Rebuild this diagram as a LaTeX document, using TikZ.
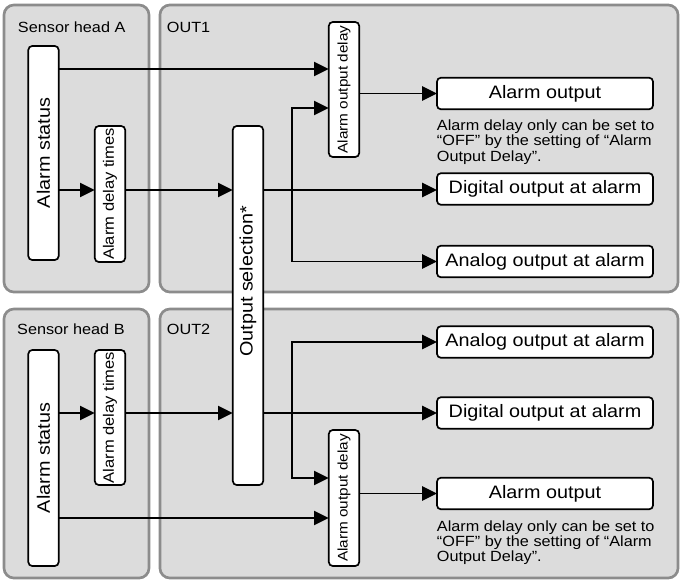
\documentclass[tikz,border=0pt]{standalone}
\usepackage{fontspec}
\setmainfont{Liberation Sans}[FakeStretch=1.1]
\usepackage{graphicx}
\usetikzlibrary{positioning,arrows.meta,calc}
\definecolor{panelfill}{HTML}{DCDCDC}
\definecolor{panelline}{HTML}{8C8C8C}
\newcommand{\up}[1]{\rotatebox{90}{#1}}

\begin{document}
\begin{tikzpicture}[
  x=0.025cm, y=-0.025cm,
  every node/.style={inner sep=0pt, outer sep=0pt},
  panel/.style={draw=panelline, line width=1.9pt, fill=panelfill, rounded corners=0.25cm},
  paneltitle/.style={font=\fontsize{10.5}{12}\selectfont},
  box/.style={draw, line width=1.2pt, rounded corners=0.1cm, fill=white, align=center, font=\fontsize{12.8}{15}\selectfont},
  hbox/.style={box, minimum width=5.4cm, minimum height=0.79cm},
  vbox/.style={box, minimum width=0.76cm},
  delaybox/.style={vbox, font=\fontsize{10.7}{13}\selectfont},
  note/.style={align=left, font=\fontsize{10.5}{8.5}\selectfont},
  arr/.style={-{Triangle[length=10.5pt,width=10pt]}, line width=1.4pt},
]
\useasboundingbox (0,0) rectangle (683,581);

% panels
\node[panel, minimum width=3.625cm, minimum height=7.175cm] (headA) at (76.5,148.5) {};
\node[panel, minimum width=12.95cm, minimum height=7.175cm] (out1) at (419,148.5) {};
\node[panel, minimum width=3.625cm, minimum height=6.725cm] (headB) at (76.5,443.5) {};
\node[panel, minimum width=12.95cm, minimum height=6.725cm] (out2) at (419,443.5) {};

\node[paneltitle, below right=0.42cm and 0.35cm of headA.north west] {Sensor head A};
\node[paneltitle, below right=0.42cm and 0.175cm of out1.north west] {OUT1};
\node[paneltitle, below right=0.38cm and 0.33cm of headB.north west] {Sensor head B};
\node[paneltitle, below right=0.38cm and 0.175cm of out2.north west] {OUT2};

% sensor head A / OUT1
\node[vbox, minimum height=5.35cm] (statA) at (43.5,153) {\up{Alarm status}};
\node[delaybox, minimum height=3.4cm] (delA) at (110,194) {\up{Alarm delay times}};
\node[delaybox, minimum height=3.375cm, font=\fontsize{9.9}{12}\selectfont] (odA) at (344,89.5) {\up{Alarm output delay}};
\node[hbox] (aoutA) at (545,93.5) {Alarm output};
\node[hbox] (doutA) at (545,189) {Digital output at alarm};
\node[hbox] (anoutA) at (545,261.5) {Analog output at alarm};
\node[note, below right=0.27cm and 0cm of aoutA.south west] (noteA) {Alarm delay only can be set to\\“OFF” by the setting of “Alarm\\Output Delay”.};

% sensor head B / OUT2
\node[vbox, minimum height=5.4cm] (statB) at (43.5,458) {\up{Alarm status}};
\node[delaybox, minimum height=3.375cm] (delB) at (110,417.5) {\up{Alarm delay times}};
\node[delaybox, minimum height=3.4cm, font=\fontsize{9.9}{12}\selectfont] (odB) at (344,498) {\up{Alarm output delay}};
\node[hbox] (anoutB) at (545,342) {Analog output at alarm};
\node[hbox] (doutB) at (545,413) {Digital output at alarm};
\node[hbox] (aoutB) at (545,493.5) {Alarm output};
\node[note, below right=0.28cm and 0cm of aoutB.south west] (noteB) {Alarm delay only can be set to\\“OFF” by the setting of “Alarm\\Output Delay”.};

% shared selector
\node[vbox, minimum height=8.975cm] (sel) at (248,305.5) {\up{\hspace*{1.2cm}Output selection*}};

\coordinate (rowA) at (0,190);
\coordinate (rowB) at (0,413);
\coordinate (forkA) at (292,190);
\coordinate (forkB) at (292,413);
\coordinate (inA) at ($(odA.west)+(0,-20.5)$);
\coordinate (inB) at ($(odB.west)+(0,20)$);

\draw[arr] (statA.east |- rowA) -- (delA.west |- rowA);
\draw[arr] (delA.east |- rowA) -- (sel.west |- rowA);
\draw[arr] (sel.east |- rowA) -- (doutA.west |- rowA);
\draw[arr] (statA.east |- inA) -- (inA);
\draw[arr] (forkA) |- ($(odA.west)+(0,18.5)$);
\draw[arr] (forkA) |- (anoutA.west);
\draw[arr] (odA.east |- aoutA.west) -- (aoutA.west);

\draw[arr] (statB.east |- rowB) -- (delB.west |- rowB);
\draw[arr] (delB.east |- rowB) -- (sel.west |- rowB);
\draw[arr] (sel.east |- rowB) -- (doutB.west |- rowB);
\draw[arr] (statB.east |- inB) -- (inB);
\draw[arr] (forkB) |- ($(odB.west)+(0,-20)$);
\draw[arr] (forkB) |- (anoutB.west);
\draw[arr] (odB.east |- aoutB.west) -- (aoutB.west);
\end{tikzpicture}
\end{document}
